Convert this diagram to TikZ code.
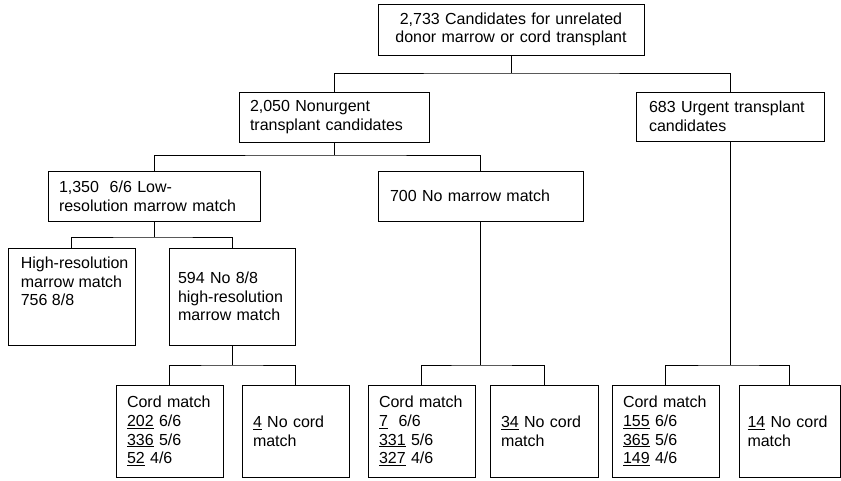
\documentclass[tikz,border=0pt]{standalone}
\usepackage{fontspec}
\setmainfont{Liberation Sans}
\begin{document}
\begin{tikzpicture}[x=1pt, y=-1pt, line join=miter,
    box/.style={draw, line width=0.8pt, align=left, inner xsep=11pt, inner ysep=0pt, font=\fontsize{16}{18.7}\selectfont},
    boxtext/.style={align=left, inner sep=0pt, font=\fontsize{16}{18.7}\selectfont},
    link/.style={line width=0.95pt}]

    \useasboundingbox (0,0) rectangle (841,480);

    % top levels
    \node[box, align=center, minimum width=266pt, minimum height=51pt, text width=244pt] (root) at (511,29.5) {2,733 Candidates for unrelated\\donor marrow or cord transplant};
    \node[box, minimum width=190pt, minimum height=50pt, text width=168pt] (nonurg) at (334,117) {2,050 Nonurgent\\transplant candidates};
    \node[box, minimum width=188pt, minimum height=49pt, text width=162pt, inner xsep=13pt] (urgent) at (730,116.5) {683 Urgent transplant\\candidates};

    \node[box, minimum width=212pt, minimum height=50pt, text width=190pt] (lowres) at (154,196) {1,350\ \ 6/6 Low-\\resolution marrow match};
    \node[box, minimum width=205pt, minimum height=50pt, text width=181pt, inner xsep=12pt] (nomarrow) at (480.5,196) {700 No marrow match};

    \node[box, minimum width=127pt, minimum height=97pt] (hires) at (71.5,296.5) {};
    \node[boxtext, anchor=north west] (hirestxt) at ([xshift=13pt, yshift=-9pt]hires.north west) {High-resolution\\marrow match\\756 8/8};
    \node[box, minimum width=126pt, minimum height=97pt, text width=108pt, inner xsep=9pt] (nohires) at (232,296.5) {594 No 8/8\\high-resolution\\marrow match};

    % cord boxes
    \node[box, minimum width=107pt, minimum height=92pt, text width=85pt] (cord1) at (169.5,431) {Cord match\\\underline{202} 6/6\\\underline{336} 5/6\\\underline{52} 4/6};
    \node[box, minimum width=107pt, minimum height=92pt, text width=85pt] (nocord1) at (295.5,431) {\underline{4} No cord\\match};
    \node[box, minimum width=107pt, minimum height=92pt, text width=85pt] (cord2) at (421.5,431) {Cord match\\\underline{7}\ \ 6/6\\\underline{331} 5/6\\\underline{327} 4/6};
    \node[box, minimum width=108pt, minimum height=92pt, text width=86pt] (nocord2) at (544,431) {\underline{34} No cord\\match};
    \node[box, minimum width=107pt, minimum height=92pt, text width=85pt] (cord3) at (665.5,431) {Cord match\\\underline{155} 6/6\\\underline{365} 5/6\\\underline{149} 4/6};
    \node[box, minimum width=101pt, minimum height=92pt, text width=84pt, inner xsep=8.5pt] (nocord3) at (789.5,431) {\underline{14} No cord\\match};

    % tree lines
    \foreach \p/\a/\b/\y in {root/nonurg/urgent/73, nonurg/lowres/nomarrow/155, lowres/hires/nohires/237,
                             nohires/cord1/nocord1/365, nomarrow/cord2/nocord2/365, urgent/cord3/nocord3/365} {
        \draw[link] (\p.south) -- (\p.south |- 0,\y);
        \draw[link] (\a.north) |- (\p.south |- 0,\y) -| (\b.north);
    }

\end{tikzpicture}
\end{document}
